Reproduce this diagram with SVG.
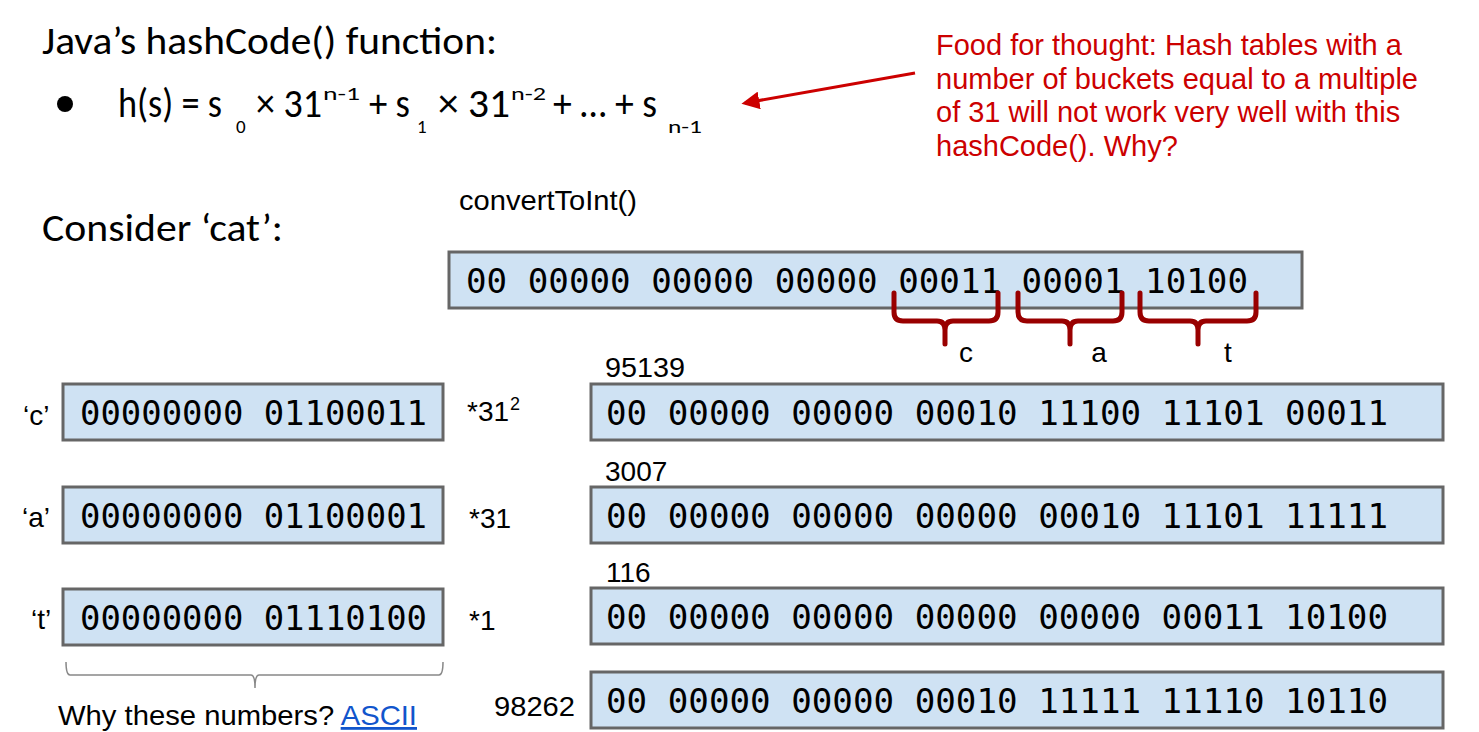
<svg xmlns="http://www.w3.org/2000/svg" width="1479" height="732" viewBox="0 0 1479 732">
<style>
.big{font-family:"Carlito","Lato","Noto Sans",sans-serif;font-size:38px;fill:#000}
.fm{font-family:"Carlito","Lato","Noto Sans",sans-serif;font-size:40px;fill:#000}
.sm{font-family:"Carlito","Lato","Noto Sans",sans-serif;font-size:19px;fill:#000}
.lab{font-family:"Liberation Sans",Arial,sans-serif;font-size:28px;fill:#000}
.note{font-family:"Liberation Sans",Arial,sans-serif;font-size:29px;fill:#cc0000}
.mono{font-family:"DejaVu Sans Mono","Liberation Mono",monospace;font-size:34px;fill:#000}
.box{fill:#cfe2f3;stroke:#666;stroke-width:3}
.brace{fill:none;stroke:#990000;stroke-width:5;stroke-linecap:round;stroke-linejoin:round}
</style>
<defs>
<marker id="ah" viewBox="0 0 10 10" refX="8" refY="5" markerWidth="6" markerHeight="6" orient="auto" markerUnits="strokeWidth">
<path d="M0,0 L10,5 L0,10 Z" fill="#cc0000"/>
</marker>
</defs>
<rect width="1479" height="732" fill="#fff"/>

<g id="title">
<text class="big" x="42" y="54" textLength="455" lengthAdjust="spacingAndGlyphs">Java’s hashCode() function:</text>
</g>
<g id="formula">
<circle cx="65" cy="104" r="8" fill="#000"/>
<text class="fm" x="118" y="117" textLength="104" lengthAdjust="spacingAndGlyphs">h(s) = s</text>
<text class="sm" x="236" y="133">0</text>
<text class="fm" x="256" y="117" textLength="66" lengthAdjust="spacingAndGlyphs">× 31</text>
<text class="sm" x="323" y="100" textLength="37" lengthAdjust="spacingAndGlyphs">n-1</text>
<text class="fm" x="369" y="117" textLength="41" lengthAdjust="spacingAndGlyphs">+ s</text>
<text class="sm" x="417" y="133">1</text>
<text class="fm" x="438" y="117" textLength="72" lengthAdjust="spacingAndGlyphs">× 31</text>
<text class="sm" x="511" y="100" textLength="35" lengthAdjust="spacingAndGlyphs">n-2</text>
<text class="fm" x="553" y="117" textLength="104" lengthAdjust="spacingAndGlyphs">+ … + s</text>
<text class="sm" x="668" y="133" textLength="34" lengthAdjust="spacingAndGlyphs">n-1</text>
</g>
<g id="note">
<text class="note" x="936" y="55">Food for thought: Hash tables with a</text>
<text class="note" x="936" y="89">number of buckets equal to a multiple</text>
<text class="note" x="936" y="122">of 31 will not work very well with this</text>
<text class="note" x="936" y="156">hashCode(). Why?</text>
</g>
<g id="connectors">
<line x1="915" y1="73" x2="745" y2="103" stroke="#cc0000" stroke-width="3" marker-end="url(#ah)"/>
</g>

<g id="consider">
<text class="big" x="42" y="241" textLength="241" lengthAdjust="spacingAndGlyphs">Consider ‘cat’:</text>
</g>

<g id="convert">
<text class="lab" x="459" y="210" textLength="178" lengthAdjust="spacingAndGlyphs">convertToInt()</text>
<rect class="box" x="449" y="252" width="853" height="56"/>
<text class="mono" x="466" y="293" textLength="782" lengthAdjust="spacingAndGlyphs">00 00000 00000 00000 00011 00001 10100</text>
</g>

<g id="braces">
<path class="brace" d="M894,293 V312 Q894,321 903,321 H937 Q945,321 945,330 V344 M945,330 Q945,321 953,321 H989 Q998,321 998,312 V293"/>
<path class="brace" d="M1018,293 V312 Q1018,321 1027,321 H1062 Q1070,321 1070,330 V344 M1070,330 Q1070,321 1078,321 H1113 Q1122,321 1122,312 V293"/>
<path class="brace" d="M1140,293 V312 Q1140,321 1149,321 H1190 Q1198,321 1198,330 V344 M1198,330 Q1198,321 1206,321 H1247 Q1256,321 1256,312 V293"/>
<text class="lab" x="966" y="362" text-anchor="middle">c</text>
<text class="lab" x="1099" y="362" text-anchor="middle">a</text>
<text class="lab" x="1228" y="362" text-anchor="middle">t</text>
</g>

<g id="char-c">
<text class="lab" x="23" y="425">‘c’</text>
<rect class="box" x="63" y="384" width="380" height="56"/>
<text class="mono" x="80" y="425" textLength="347" lengthAdjust="spacingAndGlyphs">00000000 01100011</text>
<text class="lab" x="467" y="421">*31</text>
<text class="lab" x="510" y="410" style="font-size:18px">2</text>
</g>
<g id="char-a">
<text class="lab" x="22" y="527">‘a’</text>
<rect class="box" x="63" y="487" width="380" height="56"/>
<text class="mono" x="80" y="528" textLength="347" lengthAdjust="spacingAndGlyphs">00000000 01100001</text>
<text class="lab" x="469" y="528">*31</text>
</g>
<g id="char-t">
<text class="lab" x="31" y="629">‘t’</text>
<rect class="box" x="63" y="589" width="380" height="56"/>
<text class="mono" x="80" y="630" textLength="347" lengthAdjust="spacingAndGlyphs">00000000 01110100</text>
<text class="lab" x="469" y="630">*1</text>
</g>

<g id="ascii-note">
<path d="M66,662 Q66,675 70,675 H251 Q255,675 255,688 M255,688 Q255,675 259,675 H439 Q443,675 443,662" fill="none" stroke="#888" stroke-width="1.5"/>
<text class="lab" x="58" y="725" textLength="359" lengthAdjust="spacingAndGlyphs">Why these numbers? <tspan fill="#1155cc" text-decoration="underline">ASCII</tspan></text>
</g>

<g id="term-c">
<text class="lab" x="605" y="377" textLength="80" lengthAdjust="spacingAndGlyphs">95139</text>
<rect class="box" x="591" y="384" width="852" height="56"/>
<text class="mono" x="606" y="425" textLength="782" lengthAdjust="spacingAndGlyphs">00 00000 00000 00010 11100 11101 00011</text>
</g>
<g id="term-a">
<text class="lab" x="605" y="481">3007</text>
<rect class="box" x="591" y="487" width="852" height="56"/>
<text class="mono" x="606" y="528" textLength="782" lengthAdjust="spacingAndGlyphs">00 00000 00000 00000 00010 11101 11111</text>
</g>
<g id="term-t">
<text class="lab" x="606" y="582">116</text>
<rect class="box" x="591" y="588" width="852" height="56"/>
<text class="mono" x="606" y="629" textLength="782" lengthAdjust="spacingAndGlyphs">00 00000 00000 00000 00000 00011 10100</text>
</g>
<g id="sum">
<text class="lab" x="494" y="716" textLength="81" lengthAdjust="spacingAndGlyphs">98262</text>
<rect class="box" x="591" y="672" width="852" height="56"/>
<text class="mono" x="606" y="713" textLength="782" lengthAdjust="spacingAndGlyphs">00 00000 00000 00010 11111 11110 10110</text>
</g>
</svg>
